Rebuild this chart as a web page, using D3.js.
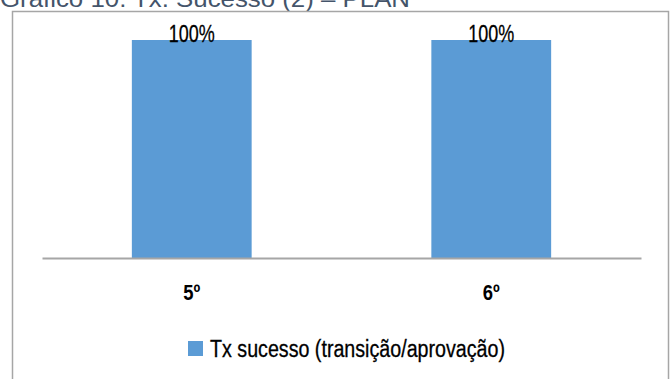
<!DOCTYPE html>
<html><head><meta charset="utf-8">
<script src="https://cdn.jsdelivr.net/npm/d3@7"></script>
<style>body{margin:0;background:#fff}svg{display:block}</style>
</head><body>
<svg id="c" width="670" height="379"></svg>
<script>
const categories = ["5º", "6º"];
const values = [100, 100];
const valueLabels = ["100%", "100%"];
const seriesName = "Tx sucesso (transição/aprovação)";
const title = "Gráfico 10: Tx. Sucesso (2) – PLAN";

const svg = d3.select("#c");
const font = "'Liberation Sans',Arial,sans-serif";

svg.append("text").attr("x", 0).attr("y", 7)
  .attr("font-family", font).attr("font-size", 24)
  .attr("textLength", 410).attr("lengthAdjust", "spacingAndGlyphs")
  .attr("fill", "#44546A").text(title);

svg.append("rect").attr("x", 12.5).attr("y", 11.5).attr("width", 656).attr("height", 380)
  .attr("fill", "none").attr("stroke", "#a6a6a6").attr("stroke-width", 1.5);

const x = d3.scaleBand().domain(categories).range([42, 641]);
const y = d3.scaleLinear().domain([0, 100]).range([258, 40]);
const bw = x.bandwidth() * 0.4;

svg.selectAll("rect.bar").data(values).join("rect").attr("class", "bar")
  .attr("x", (d, i) => x(categories[i]) + x.bandwidth() / 2 - bw / 2)
  .attr("y", d => y(d)).attr("width", bw).attr("height", d => y(0) - y(d))
  .attr("fill", "#5B9BD5");

svg.selectAll("text.vl").data(values).join("text").attr("class", "vl")
  .attr("x", (d, i) => x(categories[i]) + x.bandwidth() / 2 - 23)
  .attr("y", d => y(d) + 1.5)
  .attr("font-family", font).attr("font-size", 24).attr("fill", "#000")
  .attr("stroke", "#000").attr("stroke-width", 0.3)
  .attr("textLength", 46).attr("lengthAdjust", "spacingAndGlyphs")
  .text((d, i) => valueLabels[i]);

const ax = svg.append("g").attr("transform", "translate(0,258)")
  .call(d3.axisBottom(x).tickSize(0).tickPadding(0));
ax.select(".domain").attr("stroke", "#a6a6a6").attr("stroke-width", 2);
ax.selectAll(".tick text").attr("y", 42).attr("dy", 0)
  .attr("font-family", font).attr("font-size", 22).attr("font-weight", "bold").attr("fill", "#000")
  .attr("textLength", 17).attr("lengthAdjust", "spacingAndGlyphs");

const lg = svg.append("g");
lg.append("rect").attr("x", 188).attr("y", 341).attr("width", 15).attr("height", 15).attr("fill", "#5B9BD5");
lg.append("text").attr("x", 210).attr("y", 357).attr("font-family", font).attr("font-size", 23)
  .attr("stroke", "#000").attr("stroke-width", 0.3)
  .attr("textLength", 295).attr("lengthAdjust", "spacingAndGlyphs")
  .attr("fill", "#000").text(seriesName);
</script>
</body></html>
